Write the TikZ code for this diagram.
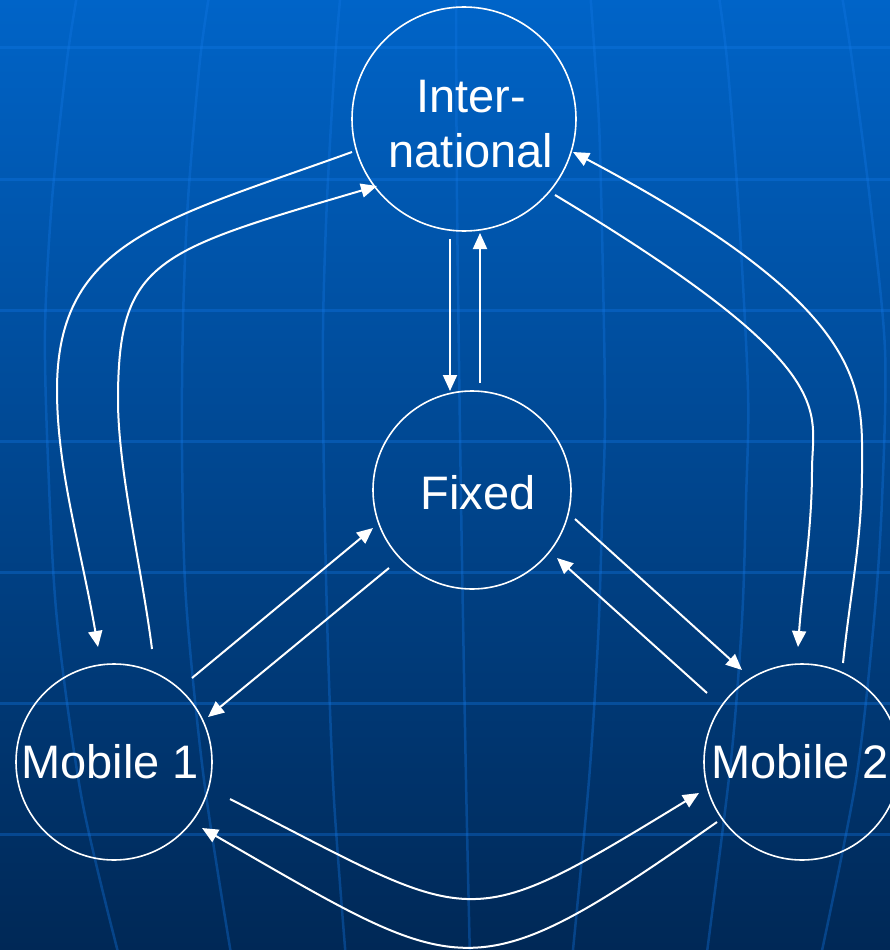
\documentclass[tikz,border=0pt]{standalone}
\usepackage{fontspec}
\setmainfont{Liberation Sans}
\usetikzlibrary{arrows.meta,calc}
\definecolor{bgtop}{HTML}{0064C8}
\definecolor{bgbot}{HTML}{002856}
\definecolor{gridc}{HTML}{1478E6}

\begin{document}
\begin{tikzpicture}[x=1pt,y=-1pt,
  gridline/.style={draw=gridc,draw opacity=0.35},
  hub/.style={circle,draw=white,line width=1.6pt,inner sep=0pt},
  tag/.style={text=white,inner sep=0pt,align=center,font=\fontsize{47}{55}\selectfont},
  link/.style={draw=white,line width=2pt,-{Triangle[length=16pt,width=14pt]}}]

% backdrop: blue gradient with a globe grid
\useasboundingbox (0,0) rectangle (890,950);
\clip (0,0) rectangle (890,950);
\shade[top color=bgtop,bottom color=bgbot] (0,0) rectangle (890,950);
\foreach \yy in {48,179,310,441,572,703,834}
  \draw[gridline,line width=3pt] (-5,\yy) -- (895,\yy);
\begin{scope}[gridline,line width=2.5pt]
  \draw plot[smooth] coordinates {(78,-10) (67,60) (52,200) (45,330) (48,460) (57,620) (82,800) (120,960)};
  \draw plot[smooth] coordinates {(210,-10) (200,60) (188,200) (183,320) (182,450) (186,600) (204,780) (232,960)};
  \draw plot[smooth] coordinates {(341,-10) (335,60) (327,200) (323,330) (324,480) (328,650) (334,800) (346,960)};
  \draw plot[smooth] coordinates {(456,-10) (457,200) (461,500) (466,780) (470,960)};
  \draw plot[smooth] coordinates {(590,-10) (595,60) (600,150) (605,400) (602,520) (598,640) (589,780) (572,960)};
  \draw plot[smooth] coordinates {(718,-10) (727,60) (738,200) (748,390) (746,500) (742,620) (731,760) (706,960)};
  \draw plot[smooth] coordinates {(841,-10) (852,60) (870,200) (885,350) (882,500) (874,620) (856,780) (820,960)};
\end{scope}

% networks
\node[hub,minimum size=224pt,label={[tag,xshift=7pt,yshift=-5pt]center:{Inter-\\national}}] (intl) at (464,119) {};
\node[hub,minimum size=198pt,label={[tag,xshift=6pt,yshift=-3pt]center:Fixed}] (fixed) at (472,490) {};
\node[hub,minimum size=196pt,label={[tag,xshift=-4pt]center:Mobile 1}] (mob1) at (114,762) {};
\node[hub,minimum size=196pt,label={[tag,xshift=-2pt]center:Mobile 2}] (mob2) at (802,762) {};

% bend points of the long side routes
\coordinate (wl1) at (57,390);
\coordinate (wl2) at (118,400);
\coordinate (wr1) at (862,470);
\coordinate (wr2) at (812,470);

% international <-> fixed
\draw[link] ($(intl)+(-14,120)$) -- ($(fixed)+(-22,-99)$);
\draw[link] ($(fixed)+(8,-107)$) -- ($(intl)+(16,114)$);

% mobile 1 <-> fixed
\draw[link] ($(mob1)+(78,-84)$) -- ($(fixed)+(-99,38)$);
\draw[link] ($(fixed)+(-83,78)$) -- ($(mob1)+(94,-45)$);

% fixed <-> mobile 2
\draw[link] ($(fixed)+(103,29)$) -- ($(mob2)+(-60,-92)$);
\draw[link] ($(mob2)+(-95,-69)$) -- ($(fixed)+(85,68)$);

% mobile 1 <-> mobile 2
\draw[link] ($(mob1)+(116,37)$) .. controls +(249,127) and +(-238,145) .. ($(mob2)+(-103,31)$);
\draw[link] ($(mob2)+(-85,60)$) .. controls +(-248,174) and +(263,151) .. ($(mob1)+(88,66)$);

% international <-> mobile 1
\draw[link] ($(intl)+(-112,33)$) .. controls +(-188,68) and +(0,-150) .. (wl1)
  .. controls +(0,80) and +(-17,-99) .. ($(mob1)+(-16,-115)$);
\draw[link] ($(mob1)+(38,-113)$) .. controls +(-10,-79) and +(0,70) .. (wl2)
  .. controls +(0,-140) and +(-221,65) .. ($(intl)+(-87,67)$);

% international <-> mobile 2
\draw[link] ($(intl)+(91,76)$) .. controls +(291,175) and +(0,-60) .. (wr2)
  .. controls +(0,60) and +(4,-57) .. ($(mob2)+(-4,-115)$);
\draw[link] ($(mob2)+(41,-99)$) .. controls +(7,-68) and +(0,70) .. (wr1)
  .. controls +(0,-80) and +(301,159) .. ($(intl)+(109,33)$);
\end{tikzpicture}
\end{document}
